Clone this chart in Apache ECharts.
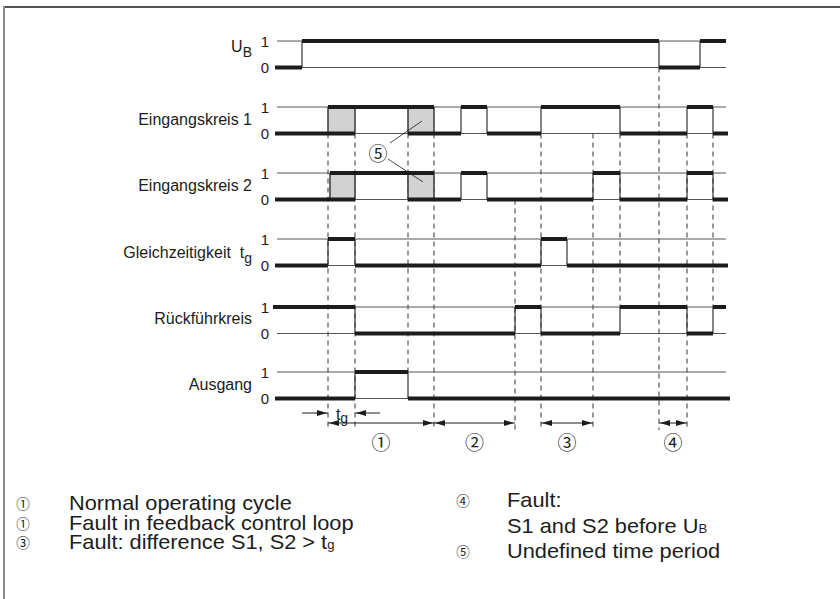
<!DOCTYPE html>
<html>
<head>
<meta charset="utf-8">
<title>Timing diagram</title>
<script src="https://cdn.jsdelivr.net/npm/echarts@6/dist/echarts.min.js"></script>
<style>
  html, body { margin: 0; padding: 0; background: #fff; }
  #main { width: 840px; height: 599px; }
</style>
</head>
<body>
<div id="main"></div>
<script>
// signal rows, top to bottom
const rowLabels = ['U{s|B}', 'Eingangskreis 1', 'Eingangskreis 2', 'Gleichzeitigkeit  t{s|g}', 'Rückführkreis', 'Ausgang'];

// switching instants and the level held after each of them ('x' = undefined)
const ubTimes = [275, 302, 659, 700, 726];
const ubLevels = [0, 1, 0, 1];
const e1Times = [275, 328, 355, 408, 434, 461, 487, 541, 620, 687, 713, 728];
const e1Levels = [0, 'x', 1, 'x', 0, 1, 0, 1, 0, 1, 0];
const e2Times = [275, 330, 355, 408, 434, 461, 487, 593, 620, 687, 713, 728];
const e2Levels = [0, 'x', 1, 'x', 0, 1, 0, 1, 0, 1, 0];
const gTimes = [275, 328, 355, 541, 567, 728];
const gLevels = [0, 1, 0, 1, 0];
const rTimes = [273, 355, 515, 541, 620, 687, 713, 726];
const rLevels = [1, 0, 1, 0, 1, 0, 1];
const aTimes = [275, 355, 408, 730];
const aLevels = [0, 1, 0];

// dashed marker lines: [time, from row, to row]  (row 6 = down to the arrows)
const markerLines = [
    [328, 1, 6], [355, 1, 6], [408, 1, 5], [434, 1, 6], [515, 2, 6], [541, 1, 6],
    [593, 1, 6], [620, 1, 4], [659, 0, 6], [687, 1, 6], [713, 1, 4]
];

// intervals marked under the diagram
const spanStarts = [328, 434, 541, 659];
const spanEnds = [434, 515, 593, 687];
const spanLabels = ['①', '②', '③', '④'];
const tgWindow = [328, 355];

// key below the chart
const keyMarksLeft = ['①', '①', '③'];
const keyTextsLeft = ['Normal operating cycle', 'Fault in feedback control loop', 'Fault: difference S1, S2 > t{s|g}'];
const keyMarksRight = ['④', '', '⑤'];
const keyTextsRight = ['Fault:', 'S1 and S2 before U{s|B}', 'Undefined time period'];

const signalTimes = [ubTimes, e1Times, e2Times, gTimes, rTimes, aTimes];
const signalLevels = [ubLevels, e1Levels, e2Levels, gLevels, rLevels, aLevels];

// layout
const levelHigh = [41, 107, 173, 239, 307, 372];
const levelGap = 26.5;
const labelY = [46, 119, 185, 252, 318, 384];
const refStart = 277, refEnd = 726;
const bottomY = 430, spanY = 423, tgY = 413, spanLabelY = 441;
const FONT = '"Liberation Sans", Arial, "Noto Sans CJK SC", sans-serif';
const MARKFONT = '"Noto Sans CJK SC", sans-serif';
const INK = '#1c1c1c';

function seg(api, x1, y1, x2, y2, style) {
    const a = api.coord([x1, y1]), b = api.coord([x2, y2]);
    return { type: 'line', shape: { x1: a[0], y1: a[1], x2: b[0], y2: b[1] }, style: style };
}

function head(api, tx, ty, dir) {
    const p = api.coord([tx, ty]);
    const len = 10, half = 3;
    return {
        type: 'polygon',
        shape: { points: [[p[0], p[1]], [p[0] - dir * len, p[1] - half], [p[0] - dir * len, p[1] + half]] },
        style: { fill: INK }
    };
}

function text(api, x, y, str, opt) {
    const p = api.coord([x, y]);
    return {
        type: 'text', x: p[0], y: p[1],
        style: Object.assign({
            text: str, fill: INK, font: '16px ' + FONT, align: 'right', verticalAlign: 'middle'
        }, opt)
    };
}

function renderSignal(params, api) {
    const r = params.dataIndex;
    const times = signalTimes[r], levels = signalLevels[r];
    const yHi = levelHigh[r], yLo = yHi + levelGap;
    const thin = { stroke: '#555', lineWidth: 1 };
    const thick = { stroke: INK, lineWidth: 4, lineCap: 'butt' };
    const kids = [];
    kids.push(seg(api, refStart, yHi, refEnd, yHi, thin));
    kids.push(seg(api, refStart, yLo, refEnd, yLo, thin));
    for (let i = 0; i < levels.length; i++) {
        const t0 = times[i], t1 = times[i + 1], v = levels[i];
        if (v === 'x') {
            const a = api.coord([t0, yHi]), b = api.coord([t1, yLo]);
            kids.push({ type: 'rect', shape: { x: a[0], y: a[1], width: b[0] - a[0], height: b[1] - a[1] },
                style: { fill: '#d2d2d2', stroke: '#777', lineWidth: 1 } });
        }
        if (i > 0) kids.push(seg(api, t0, yHi, t0, yLo, { stroke: '#333', lineWidth: 1.2 }));
    }
    for (let i = 0; i < levels.length; i++) {
        const t0 = times[i], t1 = times[i + 1], v = levels[i];
        if (v === 1 || v === 'x') kids.push(seg(api, t0, yHi, t1, yHi, thick));
        if (v === 0 || v === 'x') kids.push(seg(api, t0, yLo, t1, yLo, thick));
    }
    kids.push(text(api, 269, yHi, '1', { font: '15px ' + FONT }));
    kids.push(text(api, 269, yLo, '0', { font: '15px ' + FONT }));
    kids.push(text(api, 252, labelY[r], rowLabels[r], {
        font: '16px ' + FONT, lineHeight: 26,
        rich: { s: { fontSize: 14, fontFamily: 'Liberation Sans', lineHeight: 12, verticalAlign: 'bottom', fill: INK } }
    }));
    return { type: 'group', children: kids };
}

function rowBottom(row) {
    return row === 6 ? bottomY : levelHigh[row];
}

function renderMarker(params, api) {
    const m = markerLines[params.dataIndex];
    return seg(api, m[0], levelHigh[m[1]] + levelGap, m[0], rowBottom(m[2]),
        { stroke: '#333', lineWidth: 1, lineDash: [5, 4] });
}

function renderNotes(params, api) {
    const kids = [];
    const st = { stroke: INK, lineWidth: 1 };
    for (let i = 0; i < spanStarts.length; i++) {
        kids.push(seg(api, spanStarts[i], spanY, spanEnds[i], spanY, st));
        kids.push(head(api, spanStarts[i] + 1, spanY, -1));
        kids.push(head(api, spanEnds[i] - 1, spanY, 1));
        kids.push(text(api, (spanStarts[i] + spanEnds[i]) / 2, spanLabelY, spanLabels[i],
            { font: '19px ' + MARKFONT, align: 'center', lineHeight: 18 }));
    }
    kids.push(seg(api, tgWindow[0] - 26, tgY, tgWindow[0], tgY, st));
    kids.push(head(api, tgWindow[0] - 1, tgY, 1));
    kids.push(seg(api, tgWindow[1], tgY, tgWindow[1] + 25, tgY, st));
    kids.push(head(api, tgWindow[1] + 1, tgY, -1));
    kids.push(text(api, 342, tgY + 1, 't{s|g}', {
        font: '16px ' + FONT, align: 'center', lineHeight: 22,
        rich: { s: { fontSize: 14, lineHeight: 12, verticalAlign: 'bottom', fill: INK } }
    }));
    // undefined period callout
    kids.push(seg(api, 390, 143, 422, 121, { stroke: INK, lineWidth: 0.8 }));
    kids.push(seg(api, 388, 159, 423, 182, { stroke: INK, lineWidth: 0.8 }));
    kids.push(text(api, 378, 152, '⑤', { font: '19px ' + MARKFONT, align: 'center', lineHeight: 18 }));
    return { type: 'group', children: kids };
}

const keyRich = { s: { fontSize: 12, lineHeight: 4, verticalAlign: 'bottom', fill: INK } };
const markStyle = { font: '13.5px ' + MARKFONT, lineHeight: 15, fill: INK, align: 'center', verticalAlign: 'middle' };
const graphics = [
    { type: 'line', shape: { x1: 4, y1: 7, x2: 840, y2: 7 }, style: { stroke: '#1a1a1a', lineWidth: 1.5 } },
    { type: 'line', shape: { x1: 4, y1: 6, x2: 4, y2: 599 }, style: { stroke: '#8a8a8a', lineWidth: 2 } }
];
keyTextsLeft.forEach(function (t, i) {
    const y = 503 + i * 19.5;
    graphics.push({ type: 'text', x: 23, y: y, style: Object.assign({ text: keyMarksLeft[i] }, markStyle) });
    graphics.push({ type: 'text', x: 69, y: y, scaleX: 1.09, style: { text: t, font: '20px ' + FONT, fill: INK, verticalAlign: 'middle', lineHeight: 19, rich: keyRich } });
});
const rightY = [500, 526, 551];
keyTextsRight.forEach(function (t, i) {
    if (keyMarksRight[i]) {
        graphics.push({ type: 'text', x: 463, y: rightY[i], style: Object.assign({ text: keyMarksRight[i] }, markStyle) });
    }
    graphics.push({ type: 'text', x: 507, y: rightY[i], scaleX: 1.09, style: { text: t, font: '20px ' + FONT, fill: INK, verticalAlign: 'middle', lineHeight: 19, rich: keyRich } });
});

const chart = echarts.init(document.getElementById('main'), null, { renderer: 'svg' });
chart.setOption({
    animation: false,
    backgroundColor: '#fff',
    grid: { left: 0, right: 0, top: 0, bottom: 0 },
    xAxis: { type: 'value', min: 0, max: 840, show: false },
    yAxis: { type: 'value', min: 0, max: 599, inverse: true, show: false },
    graphic: graphics,
    series: [
        { type: 'custom', renderItem: renderMarker, data: markerLines.map(function (m) { return [m[0], 0]; }), z: 1 },
        { type: 'custom', renderItem: renderSignal, data: signalTimes.map(function (t, i) { return [t[0], i]; }), z: 2 },
        { type: 'custom', renderItem: renderNotes, data: [[0, 0]], z: 3 }
    ]
});
</script>
</body>
</html>
